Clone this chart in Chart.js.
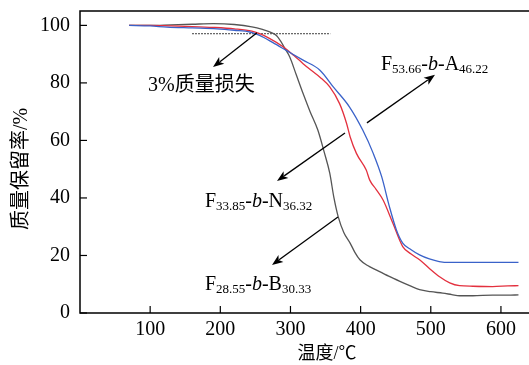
<!DOCTYPE html>
<html>
<head>
<meta charset="utf-8">
<script src="https://cdn.jsdelivr.net/npm/chart.js@4.4.1/dist/chart.umd.min.js"></script>
<style>
html,body{margin:0;padding:0;background:#fff;}
#wrap{width:529px;height:365px;}
</style>
</head>
<body>
<div id="wrap"><canvas id="c" width="529" height="365"></canvas></div>
<script>
// ---- data ----
const grayT = [70,100,130,160,190,220,245,260,272,280,286,292,299,308,318,328,339,348,356,362,368,376,385,392,399,410,422,440,456,470,484,500,517,530,541,560,588,610,625];
const grayV = [100,100,100.2,100.4,100.6,100.3,99.5,98.6,97.6,96.5,94.5,92,89,83,76.3,70,63.6,56,48.6,40,33.5,28,24.3,21,18.5,16.5,15,12.8,11,9.5,8.1,7.4,6.9,6.4,6.0,6.0,6.2,6.2,6.3];
const redT = [70,100,130,160,190,220,245,256,270,290,305,318,330,342,356,370,380,385,394,408,413,422,432,446,460,472,484,498,512,527,541,560,588,610,625];
const redV = [100,100,99.8,99.6,99.3,98.8,98,97.1,95.5,92.5,89.5,86.7,84.3,82,78.6,72.8,65.9,61.3,55.5,49.7,46.2,43,39.3,31.2,23.1,20.5,18.5,15.5,12.7,10.5,9.5,9.3,9.2,9.4,9.5];
const blueT = [70,100,124,160,195,220,242,256,275,294,318,342,361,384,403,418,430,441,451,460,472,484,498,512,527,541,570,600,625];
const blueV = [100,99.8,99.4,99.1,98.8,98.3,97.7,96.5,94,91.3,87.9,84.4,78.6,71.7,63.6,55.5,47.4,37,28.9,24.3,22,20.2,18.8,17.9,17.6,17.6,17.6,17.6,17.6];
const lossT = [160,357];
const lossV = [97.1,97.1];
const xTicks = [100,200,300,400,500,600];
const yTicks = [0,20,40,60,80,100];
const xTitle = '温度/℃';
const yTitle = '质量保留率/%';
const lossLabel = '3%质量损失';
const seriesA = [['F',0],['53.66',1],['-',0],['b',2],['-A',0],['46.22',1]];
const seriesN = [['F',0],['33.85',1],['-',0],['b',2],['-N',0],['36.32',1]];
const seriesB = [['F',0],['28.55',1],['-',0],['b',2],['-B',0],['30.33',1]];

const pts = (T,V)=>T.map((t,i)=>({x:t,y:V[i]}));
const SERIF = '"Liberation Serif", "Noto Sans CJK SC", serif';

// annotations in data coordinates
const notes = [
  {parts:[[lossLabel,0]], tx:97, ty:77.2, from:[252.3,97.4], to:[189.6,85.5]},
  {parts:seriesA, tx:429, ty:84.5, from:[409,66.1], to:[506,82.8]},
  {parts:seriesN, tx:178, ty:36.9, from:[377.7,62.6], to:[280.8,45.9]},
  {parts:seriesB, tx:178, ty:8.0, from:[367.7,33.4], to:[273.7,16.7]}
];

function arrow(ctx,x1,y1,x2,y2){
  const a=Math.atan2(y2-y1,x2-x1), L=11, W=4.2;
  ctx.beginPath();ctx.moveTo(x1,y1);
  ctx.lineTo(x2-Math.cos(a)*L*0.8,y2-Math.sin(a)*L*0.8);ctx.stroke();
  ctx.beginPath();
  ctx.moveTo(x2,y2);
  ctx.lineTo(x2-Math.cos(a)*L-Math.sin(a)*W, y2-Math.sin(a)*L+Math.cos(a)*W);
  ctx.lineTo(x2-Math.cos(a)*L*0.75, y2-Math.sin(a)*L*0.75);
  ctx.lineTo(x2-Math.cos(a)*L+Math.sin(a)*W, y2-Math.sin(a)*L-Math.cos(a)*W);
  ctx.closePath();ctx.fill();
}

const deco = {
  id:'deco',
  afterDraw(chart){
    const ctx=chart.ctx, xs=chart.scales.x, ys=chart.scales.y, a=chart.chartArea;
    ctx.save();
    ctx.strokeStyle='#000';ctx.fillStyle='#000';
    // frame
    ctx.lineWidth=1.5;
    ctx.beginPath();
    ctx.moveTo(a.right+2,a.top);ctx.lineTo(a.left,a.top);ctx.lineTo(a.left,a.bottom);ctx.lineTo(a.right+2,a.bottom);
    ctx.stroke();
    // inward ticks
    ctx.lineWidth=1.2;
    xTicks.forEach(v=>{const p=xs.getPixelForValue(v);ctx.beginPath();ctx.moveTo(p,a.bottom);ctx.lineTo(p,a.bottom-7);ctx.stroke();});
    yTicks.forEach(v=>{const p=ys.getPixelForValue(v);ctx.beginPath();ctx.moveTo(a.left,p);ctx.lineTo(a.left+7,p);ctx.stroke();});
    // axis titles
    ctx.textAlign='center';ctx.textBaseline='middle';
    ctx.font='18px '+SERIF;
    ctx.fillText(xTitle,xs.getPixelForValue(352),a.bottom+41);
    ctx.save();
    ctx.translate(22,(a.top+a.bottom)/2+7);
    ctx.rotate(-Math.PI/2);
    ctx.font='20px '+SERIF;
    ctx.fillText(yTitle,0,0);
    ctx.restore();
    // annotations
    ctx.textAlign='left';
    ctx.lineWidth=1.3;
    ctx.textBaseline='alphabetic';
    notes.forEach(n=>{
      arrow(ctx,xs.getPixelForValue(n.from[0]),ys.getPixelForValue(n.from[1]),xs.getPixelForValue(n.to[0]),ys.getPixelForValue(n.to[1]));
      let x=xs.getPixelForValue(n.tx), y=ys.getPixelForValue(n.ty);
      n.parts.forEach(([t,k])=>{
        if(k===1){ctx.font='13px '+SERIF; ctx.fillText(t,x,y+3); }
        else if(k===2){ctx.font='italic 20px '+SERIF; ctx.fillText(t,x,y);}
        else {ctx.font='20px '+SERIF; ctx.fillText(t,x,y);}
        x+=ctx.measureText(t).width;
      });
    });
    ctx.restore();
  }
};

new Chart(document.getElementById('c'),{
  type:'line',
  data:{datasets:[
    {data:pts(blueT,blueV),borderColor:'#3a62c9',borderWidth:1.3,pointRadius:0,cubicInterpolationMode:'monotone'},
    {data:pts(redT,redV),borderColor:'#e3303e',borderWidth:1.3,pointRadius:0,cubicInterpolationMode:'monotone'},
    {data:pts(grayT,grayV),borderColor:'#555555',borderWidth:1.3,pointRadius:0,cubicInterpolationMode:'monotone'},
    {data:pts(lossT,lossV),borderColor:'#000',borderWidth:1,borderDash:[1.5,1.5],pointRadius:0}
  ]},
  options:{
    responsive:false,animation:false,
    layout:{padding:{top:11,right:0,left:0,bottom:0}},
    plugins:{legend:{display:false},tooltip:{enabled:false}},
    scales:{
      x:{type:'linear',min:0,max:640,
        afterBuildTicks:s=>{s.ticks=xTicks.map(v=>({value:v}));},
        afterFit:s=>{s.height=52;s.paddingLeft=0;s.paddingRight=0;},
        grid:{display:false,drawTicks:false},border:{display:false},
        ticks:{font:{family:SERIF,size:20},color:'#000',padding:5,maxRotation:0,autoSkip:false},
        title:{display:false}
      },
      y:{min:0,max:105,
        afterBuildTicks:s=>{s.ticks=yTicks.map(v=>({value:v}));},
        afterFit:s=>{s.width=80;s.paddingTop=0;s.paddingBottom=0;},
        grid:{display:false,drawTicks:false},border:{display:false},
        ticks:{font:{family:SERIF,size:20},color:'#000',padding:10},
        title:{display:false}
      }
    }
  },
  plugins:[deco]
});
</script>
</body>
</html>
